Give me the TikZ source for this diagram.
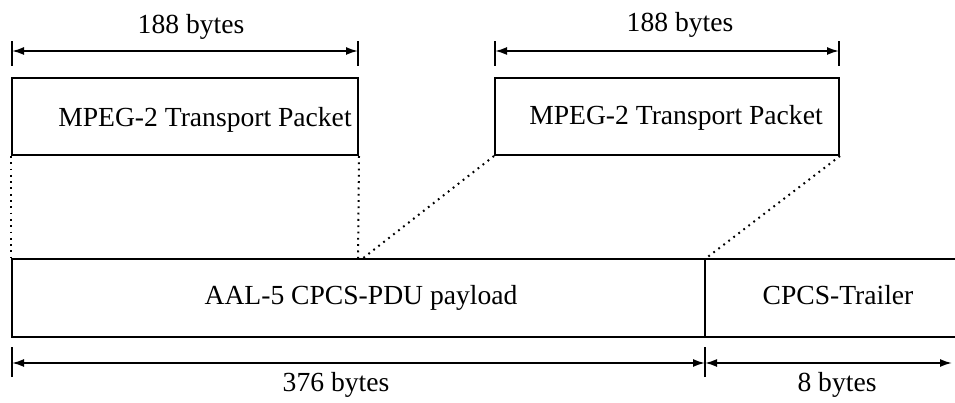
\documentclass[tikz,border=0pt]{standalone}
\usepackage{fontspec}
\setmainfont{Liberation Serif}
\usetikzlibrary{arrows.meta}
\begin{document}
\begin{tikzpicture}[x=1pt,y=-1pt,
  box/.style={draw, line width=2pt, inner sep=0pt},
  lbl/.style={font=\fontsize{27.6}{30}\selectfont, inner sep=0pt},
  dim/.style={line width=1.8pt, {Latex[length=12pt,width=8pt]}-{Latex[length=12pt,width=8pt]}},
  tick/.style={line width=1.8pt},
  guide/.style={line width=2pt, dash pattern=on 1.8pt off 4.5pt}]
\useasboundingbox (0,0) rectangle (955,403);
% packets
\node[box, minimum width=346pt, minimum height=77pt] (p1) at (185,116.5) {};
\node[lbl] (p1t) at (205,120) {MPEG-2 Transport Packet};
\node[box, minimum width=344pt, minimum height=77pt] (p2) at (667,116.5) {};
\node[lbl] (p2t) at (676,118) {MPEG-2 Transport Packet};
% AAL-5 frame
\node[box, minimum width=693pt, minimum height=78pt] (pay) at (358.5,298) {};
\node[lbl] (payt) at (361,298) {AAL-5 CPCS-PDU payload};
\coordinate (trtl) at (705,259);
\coordinate (trtr) at (956,259);
\coordinate (trbl) at (705,337);
\coordinate (trbr) at (956,337);
\draw[line width=2pt] (trtl) -- (trtr) (trbl) -- (trbr);
\node[lbl] (trt) at (838,295) {CPCS-Trailer};
% dotted guides
\coordinate (g1) at (362,259);
\draw[guide] (p1.south west) -- (pay.north west);
\draw[guide] (p1.south east) -- (358,259);
\draw[guide] (p2.south west) -- (g1);
\draw[guide] (p2.south east) -- (trtl);
% top dimensions
\coordinate (a1) at (12,51); \coordinate (a2) at (358,51);
\coordinate (a3) at (495,51); \coordinate (a4) at (839,51);
\foreach \c in {a1,a2,a3,a4} \draw[tick] ([yshift=-15pt]\c) -- ([yshift=10pt]\c);
\draw[dim] (a1) -- (a2);
\draw[dim] (a3) -- (a4);
\node[lbl] (l1) at (191,27) {188 bytes};
\node[lbl] (l2) at (680,25) {188 bytes};
% bottom dimensions
\coordinate (b1) at (12,363); \coordinate (b2) at (705,363); \coordinate (b3) at (952,363);
\foreach \c in {b1,b2} \draw[tick] ([yshift=-14pt]\c) -- ([yshift=16pt]\c);
\draw[dim] (b1) -- (b2);
\draw[dim] (b2) -- (b3);
\node[lbl] (l3) at (336,385) {376 bytes};
\node[lbl] (l4) at (837,385) {8 bytes};
\end{tikzpicture}
\end{document}
